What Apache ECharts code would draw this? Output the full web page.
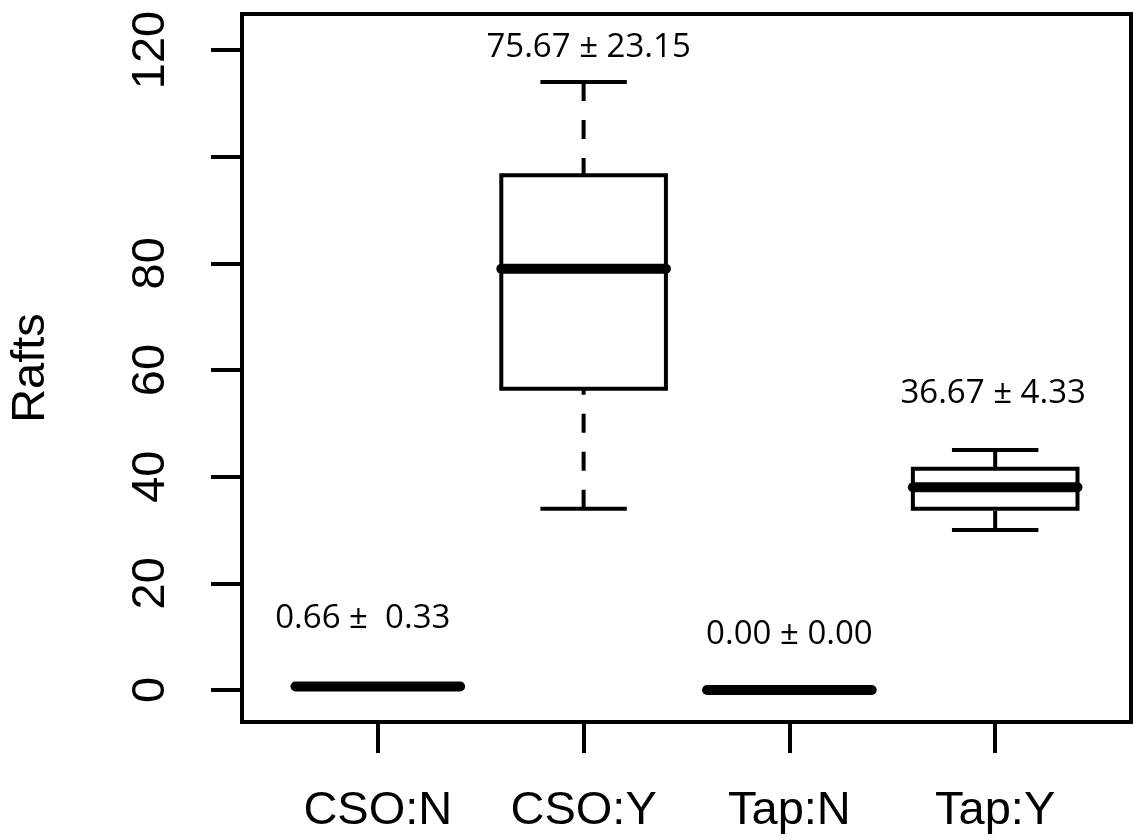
<!DOCTYPE html>
<html>
<head>
<meta charset="utf-8">
<script src="https://cdn.jsdelivr.net/npm/echarts@6/dist/echarts.min.js"></script>
<style>
html, body { margin: 0; padding: 0; background: #fff; }
#chart { width: 1138px; height: 840px; }
</style>
</head>
<body>
<div id="chart"></div>
<script>
// groups along the x axis
const categories = ["CSO:N", "CSO:Y", "Tap:N", "Tap:Y"];
// box stats
const whiskerLow = [0.33, 34, 0, 30];
const q1 = [0.33, 56.5, 0, 34];
const median = [0.66, 79, 0, 38];
const q3 = [1, 96.5, 0, 41.5];
const whiskerHigh = [1, 114, 0, 45];
// mean ± SE written over each group
const annotations = ["0.66 ±  0.33", "75.67 ± 23.15", "0.00 ± 0.00", "36.67 ± 4.33"];
// y ticks (100 has a tick but no label)
const yTicks = [0, 20, 40, 60, 80, 100, 120];
const yLabels = [0, 20, 40, 60, 80, 120];

const chart = echarts.init(document.getElementById("chart"));

const axisFont = "'Liberation Sans', Arial, Helvetica, sans-serif";
const noteFont = "'Open Sans', Lato, sans-serif";

// where each annotation sits (y in data units, small x nudge in px)
const noteY = [13.3, 120.4, 10.3, 55.5];
const noteDx = [-15, 5, 0, -2];

function renderBox(params, api) {
  const x = api.value(0);
  const half = 0.4; // boxwex 0.8
  const cap = 0.21;
  const lo = api.value(1), b1 = api.value(2), med = api.value(3), b3 = api.value(4), hi = api.value(5);
  const c = (dx, v) => api.coord([x + dx, v]);
  const line = (p1, p2, extra) => ({
    type: "line",
    shape: { x1: p1[0], y1: p1[1], x2: p2[0], y2: p2[1] },
    style: Object.assign({ stroke: "#000", lineWidth: 4, fill: null }, extra || {}),
  });
  const tl = c(-half, b3), br = c(half, b1);
  return {
    type: "group",
    children: [
      line(c(0, hi), c(0, b3), { lineDash: [19, 19] }),
      line(c(0, lo), c(0, b1), { lineDash: [19, 19] }),
      line(c(-cap, hi), c(cap, hi)),
      line(c(-cap, lo), c(cap, lo)),
      {
        type: "rect",
        shape: { x: tl[0], y: tl[1], width: br[0] - tl[0], height: br[1] - tl[1] },
        style: { fill: "#fff", stroke: "#000", lineWidth: 4 },
      },
      line(c(-half, med), c(half, med), { lineWidth: 10, lineCap: "round" }),
    ],
  };
}

function renderNote(params, api) {
  const i = params.dataIndex;
  const p = api.coord([api.value(0), api.value(1)]);
  return {
    type: "text",
    style: {
      text: annotations[i],
      x: p[0] + noteDx[i],
      y: p[1],
      align: "center",
      verticalAlign: "middle",
      fontSize: 33,
      fontFamily: noteFont,
      fill: "#000",
    },
  };
}

const option = {
  backgroundColor: "#fff",
  animation: false,
  grid: {
    left: 242,
    right: 7,
    top: 14,
    bottom: 118,
    show: true,
    borderColor: "#000",
    borderWidth: 4,
    backgroundColor: "#fff",
  },
  xAxis: {
    type: "value",
    min: 0.34,
    max: 4.66,
    axisLine: { show: false, onZero: false },
    splitLine: { show: false },
    axisTick: {
      show: true,
      inside: false,
      length: 31,
      customValues: [1, 2, 3, 4],
      lineStyle: { color: "#000", width: 4 },
    },
    axisLabel: {
      customValues: [1, 2, 3, 4],
      formatter: (v) => categories[Math.round(v) - 1],
      margin: 66,
      fontSize: 47,
      fontFamily: axisFont,
      color: "#000",
    },
  },
  yAxis: {
    type: "value",
    min: -6,
    max: 126.75,
    name: "Rafts",
    nameLocation: "middle",
    nameGap: 187,
    nameTextStyle: { fontSize: 47, fontFamily: axisFont, color: "#000" },
    axisLine: { show: false, onZero: false },
    splitLine: { show: false },
    axisTick: {
      show: true,
      inside: false,
      length: 31,
      customValues: yTicks,
      lineStyle: { color: "#000", width: 4 },
    },
    axisLabel: {
      customValues: yLabels,
      rotate: 90,
      margin: 67,
      fontSize: 47,
      fontFamily: axisFont,
      color: "#000",
    },
  },
  series: [
    {
      type: "custom",
      renderItem: renderBox,
      encode: { x: 0, y: [1, 2, 3, 4, 5] },
      data: categories.map((c, i) => [i + 1, whiskerLow[i], q1[i], median[i], q3[i], whiskerHigh[i]]),
      z: 3,
    },
    {
      type: "custom",
      renderItem: renderNote,
      encode: { x: 0, y: 1 },
      data: categories.map((c, i) => [i + 1, noteY[i]]),
      z: 4,
    },
  ],
};

chart.setOption(option);
</script>
</body>
</html>
